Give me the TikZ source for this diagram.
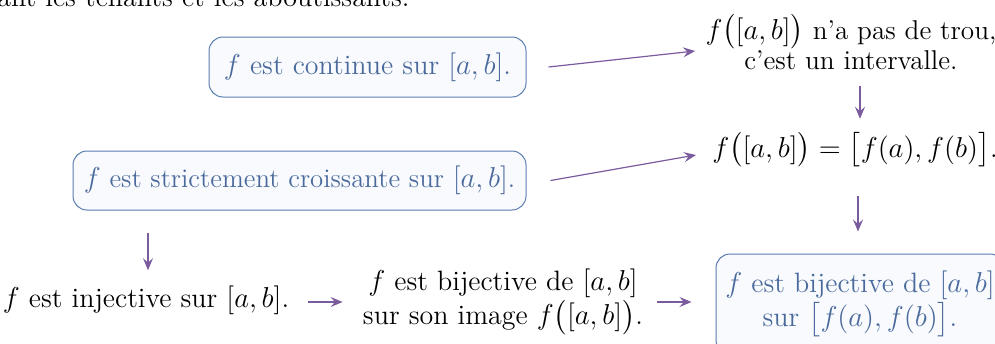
\documentclass[tikz,border=0pt]{standalone}
\usepackage{amsmath}
\usetikzlibrary{arrows.meta}
\definecolor{boxtext}{HTML}{4A6A9C}
\definecolor{boxdraw}{HTML}{5B7DB1}
\definecolor{boxfill}{HTML}{F8FAFD}
\definecolor{arrowcol}{HTML}{7B5B9E}
\tikzset{
  keybox/.style={draw=boxdraw, fill=boxfill, text=boxtext, rounded corners=7pt,
    line width=0.5pt, align=center, inner sep=0pt},
  plain/.style={align=center, inner sep=2pt},
  implies/.style={draw=arrowcol, line width=0.6pt,
    -{Stealth[length=6pt, width=5pt, inset=2.2pt]}},
  every node/.style={font=\fontsize{14}{15}\selectfont}
}
\begin{document}
\begin{tikzpicture}[x=0.5pt, y=-0.5pt]
\useasboundingbox (0,0) rectangle (995,343);
\clip (0,0) rectangle (995,343);
\node[anchor=base west, inner sep=0pt] (intro) at (-3,6) {ant les tenants et les aboutissants.};
\node[keybox, minimum width=158.5pt, minimum height=30pt] (cont) at (367.5,67) {$f$ est continue sur $[a,b]$.};
\node[keybox, minimum width=226.5pt, minimum height=29.5pt, font=\fontsize{13.4}{15}\selectfont] (crois) at (299.5,180.5) {$f$ est strictement croissante sur $[a,b]$.};
\node[plain, font=\fontsize{13.6}{15}\selectfont] (trou) at (851,42) {$f\bigl([a,b]\bigr)$ n'a pas de trou,\\c'est un intervalle.};
\node[plain] (egal) at (855,150) {$f\bigl([a,b]\bigr)=\bigl[f(a),f(b)\bigr]$.};
\node[plain] (inj) at (146,300) {$f$ est injective sur $[a,b]$.};
\node[plain] (bijim) at (503,302) {$f$ est bijective de $[a,b]$\\sur son image $f\bigl([a,b]\bigr)$.};
\node[keybox, minimum width=144pt, minimum height=50pt] (bij) at (860,304) {$f$ est bijective de $[a,b]$\\sur $\bigl[f(a),f(b)\bigr]$.};
\draw[implies] ([xshift=11pt]cont.east) -- ([xshift=-3pt,yshift=-4.5pt]trou.west);
\draw[implies] ([xshift=12pt]crois.east) -- ([xshift=-6pt,yshift=-2.5pt]egal.west);
\draw[implies] ([xshift=4.5pt,yshift=-6pt]trou.south) -- ([xshift=4.5pt,yshift=-22.5pt]trou.south);
\draw[implies] ([xshift=1.5pt,yshift=-12pt]egal.south) -- ([xshift=-1pt,yshift=11pt]bij.north);
\draw[implies] ([xshift=-75.75pt,yshift=-11pt]crois.south) -- ([xshift=1pt,yshift=5.5pt]inj.north);
\draw[implies] ([xshift=7pt,yshift=-1pt]inj.east) -- ([xshift=-8pt,yshift=-1pt]inj.east -| bijim.west);
\draw[implies] ([xshift=5pt,yshift=-1pt]inj.east -| bijim.east) -- ([xshift=-12pt,yshift=-1pt]inj.east -| bij.west);
\end{tikzpicture}
\end{document}
